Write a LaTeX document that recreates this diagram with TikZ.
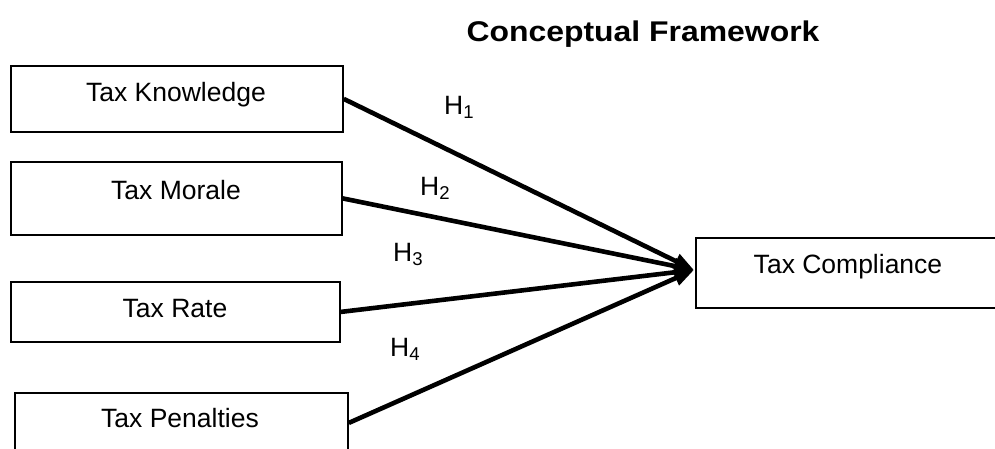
\documentclass[tikz,border=0pt]{standalone}
\usepackage{fontspec}
\setmainfont{Liberation Sans}
\usetikzlibrary{arrows.meta}
\begin{document}
\begin{tikzpicture}[x=1pt,y=-1pt,
  box/.style={draw=black,line width=1.8pt,fill=white,inner sep=0pt,anchor=north west},
  lbl/.style={font=\fontsize{26.5}{30}\selectfont,anchor=base,inner sep=0pt},
  hyp/.style={font=\fontsize{26.5}{30}\selectfont,anchor=base west,inner sep=0pt},
  link/.style={line width=4.6pt,-{Triangle[length=20pt,width=15pt]}}]
\clip (0,0) rectangle (995,448);
\fill[white] (0,0) rectangle (995,448);
% title
\node[font=\bfseries\fontsize{28.5}{32}\selectfont,anchor=base,inner sep=0pt,xscale=1.12,transform shape] (title) at (643,41) {Conceptual Framework};
% boxes
\node[box,minimum width=332pt,minimum height=66pt] (k) at (10,65) {};
\node[box,minimum width=331pt,minimum height=73pt] (m) at (10,161) {};
\node[box,minimum width=329pt,minimum height=60pt] (r) at (10,281) {};
\node[box,minimum width=333pt,minimum height=60pt] (p) at (14,392) {};
\node[box,minimum width=310pt,minimum height=70pt] (c) at (695,237) {};
% box texts
\node[lbl] (kt) at (176,101) {Tax Knowledge};
\node[lbl] (mt) at (176,199) {Tax Morale};
\node[lbl] (rt) at (175,317) {Tax Rate};
\node[lbl] (pt) at (180,427) {Tax Penalties};
\node[lbl] (ct) at (848,273) {Tax Compliance};
% connectors
\coordinate (tip) at (694,270);
\draw[link] (k.east) -- (tip);
\draw[link] (m.east) -- (tip);
\draw[link] (r.east) -- (tip);
\draw[link] (p.east) -- (tip);
% hypothesis labels
\node[hyp] (h1) at (444,114) {H\textsubscript{1}};
\node[hyp] (h2) at (420,195) {H\textsubscript{2}};
\node[hyp] (h3) at (393,261) {H\textsubscript{3}};
\node[hyp] (h4) at (390,356) {H\textsubscript{4}};
\end{tikzpicture}
\end{document}
